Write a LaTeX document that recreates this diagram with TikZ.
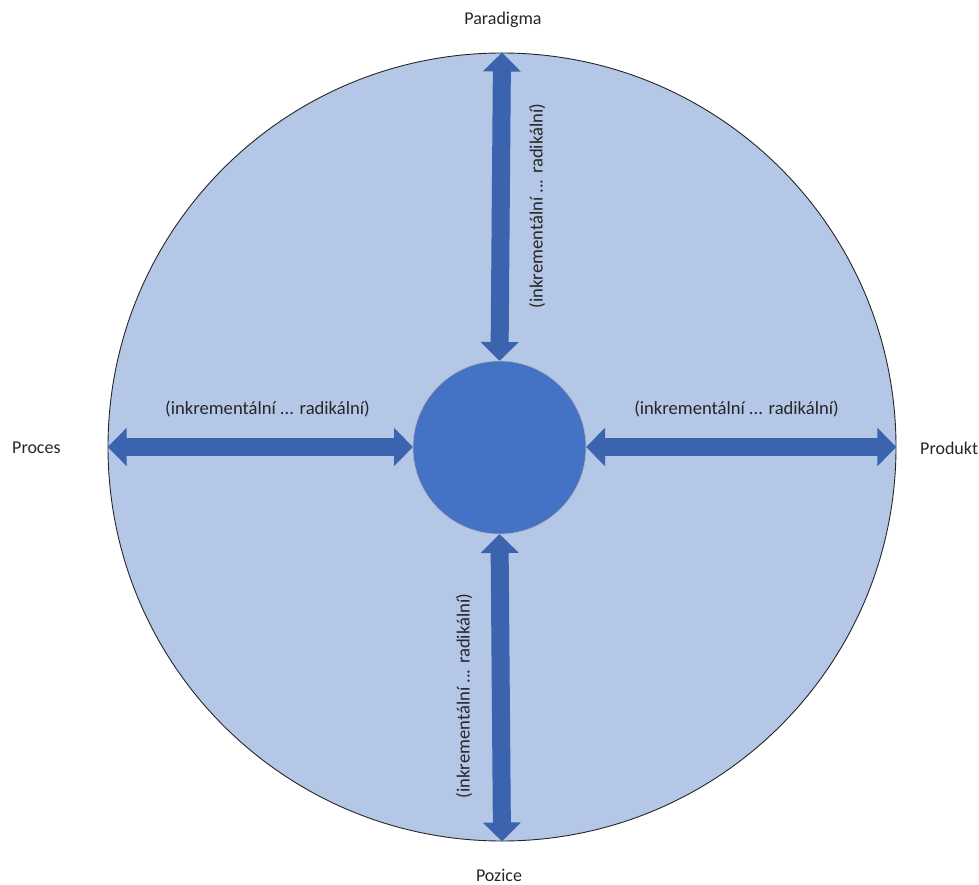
\documentclass[tikz,border=0pt]{standalone}
\usepackage{fontspec}
\setmainfont{Carlito}
\usetikzlibrary{arrows.meta}
\definecolor{bigfill}{RGB}{180,199,231}
\definecolor{smallfill}{RGB}{68,114,196}
\definecolor{arrowfill}{RGB}{60,99,174}
\tikzset{
  bigcircle/.style={circle, draw=black!85, line width=0.9pt, fill=bigfill, minimum size=788pt, inner sep=0pt},
  smallcircle/.style={circle, draw=gray!60, line width=0.6pt, fill=smallfill, minimum size=173pt, inner sep=0pt},
  dblarrow/.style={draw=arrowfill, line width=18pt,
    {Triangle[width=37pt,length=19pt,fill=arrowfill]}-{Triangle[width=37pt,length=19pt,fill=arrowfill]}},
  lbl/.style={font=\fontsize{18}{22}\selectfont, inner sep=0pt, text=black!85},
  rng/.style={font=\fontsize{18.6}{22}\selectfont, inner sep=0pt, text=black!85},
}
\begin{document}
\begin{tikzpicture}[x=1pt,y=-1pt]
\useasboundingbox (0,0) rectangle (979,885);
\node[bigcircle] (B) at (502,447) {};
\draw[dblarrow] (B.north) -- (499.5,361) coordinate (tN);
\draw[dblarrow] (B.south) -- (499.5,534) coordinate (tS);
\draw[dblarrow] (B.west) -- (413,447) coordinate (tW);
\draw[dblarrow] (B.east) -- (586,447) coordinate (tE);
\node[smallcircle] (S) at (499.5,447.5) {};
\node[lbl] (par) at (503,20) {Paradigma};
\node[lbl] (poz) at (499,875) {Pozice};
\node[lbl, anchor=west] (pro) at (12,448) {Proces};
\node[lbl, anchor=west] (prd) at (920,448) {Produkt};
\node[rng] (lw) at (267.5,409) {(inkrementální ... radikální)};
\node[rng] (le) at (736.5,409) {(inkrementální ... radikální)};
\node[rng, rotate=90] (ln) at (537,206) {(inkrementální ... radikální)};
\node[rng, rotate=90] (ls) at (464,696) {(inkrementální ... radikální)};
\end{tikzpicture}
\end{document}
